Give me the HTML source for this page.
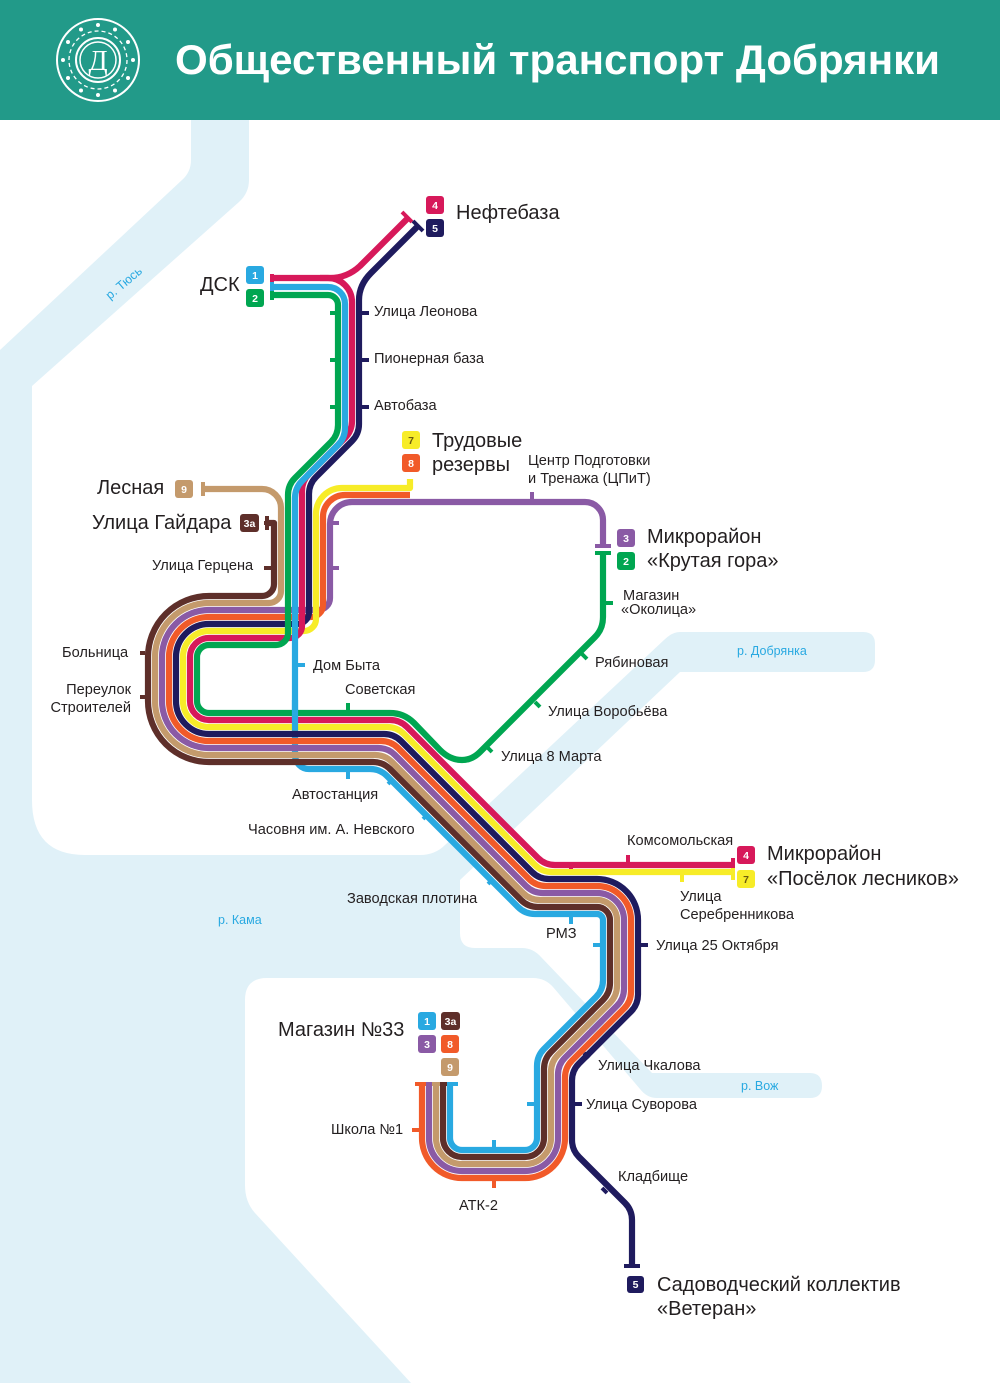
<!DOCTYPE html>
<html><head><meta charset="utf-8"><style>
html,body{margin:0;padding:0;background:#fff}
svg{display:block}
text{font-family:"Liberation Sans",sans-serif}
.s{font-size:14.6px;fill:#231f20}
.b{font-size:20px;fill:#231f20}
.r{font-size:12.5px;fill:#29a9e1}
.bt{font-size:10.5px;fill:#fff;text-anchor:middle;font-weight:bold}
path.l{fill:none;stroke-width:6.2;stroke-linejoin:round}
</style></head><body>
<svg width="1000" height="1383" viewBox="0 0 1000 1383" xmlns="http://www.w3.org/2000/svg">
<rect x="0" y="120" width="1000" height="1263" fill="#e0f1f8"/>
<path fill="#fff" d="M0,120 H191 V160 Q191,172 182,180 L0,350 Z"/>
<path fill="#fff" d="M249,120 H1000 V1383 H411 L255,1213 Q245,1202 245,1185 V1000 Q245,978 267,978 H533 Q545,978 553,987 L640,1089 Q647,1098 657,1098 H810 Q822,1098 822,1086 Q822,1073 810,1073 H652 L541,957 Q533,948 522,948 H475 Q460,948 460,933 V880 L680,672 H863 Q875,672 875,660 V644 Q875,632 863,632 H680 Q672,632 664,640 L445,845 Q435,855 420,855 H85 Q32,855 32,800 V386 L239,202 Q249,193 249,180 Z"/>
<rect x="0" y="0" width="1000" height="120" fill="#229a89"/>
<g fill="none" stroke="#fff">
<circle cx="98" cy="60" r="41" stroke-width="2"/>
<circle cx="98" cy="60" r="22" stroke-width="2"/>
<circle cx="98" cy="60" r="18" stroke-width="1.5"/>
<circle cx="98" cy="60" r="29" stroke-width="1.3" stroke-dasharray="4 3"/>
</g>
<g fill="#fff">
<circle cx="98" cy="25" r="2"/><circle cx="115" cy="29.5" r="2"/><circle cx="128" cy="42" r="2"/><circle cx="133" cy="60" r="2"/><circle cx="128" cy="78" r="2"/><circle cx="115" cy="90.5" r="2"/><circle cx="98" cy="95" r="2"/><circle cx="81" cy="90.5" r="2"/><circle cx="68" cy="78" r="2"/><circle cx="63" cy="60" r="2"/><circle cx="68" cy="42" r="2"/><circle cx="81" cy="29.5" r="2"/>
<text x="98" y="70" text-anchor="middle" style="font-family:'Liberation Serif',serif;font-size:28px;fill:#fff">Д</text>
<text x="175" y="74" textLength="765" lengthAdjust="spacingAndGlyphs" style="font-size:42px;font-weight:bold;fill:#fff">Общественный транспорт Добрянки</text>
</g>
<text class="r" transform="translate(110,300) rotate(-40)">р. Тюсь</text>
<text class="r" x="737" y="655">р. Добрянка</text>
<text class="r" x="218" y="924">р. Кама</text>
<text class="r" x="741" y="1090">р. Вож</text>

<path class="l" stroke="#29a9e1" d="M295,700 V755 A14,14 0 0 0 309,769 H370 Q380,769 387,776 L518,907 Q525,914 535,914 H597 A6,6 0 0 1 603,920 V980 Q603,990 596,997 L544,1049 Q537,1056 537,1066 V1138 A12,12 0 0 1 525,1150 H462 A12,12 0 0 1 450,1138 V1084"/>
<path class="l" stroke="#8a5aa5" d="M603,546 V520 A18,18 0 0 0 585,502 H352 A22,22 0 0 0 330,524 V598 A12,12 0 0 1 318,610 H209 A47,47 0 0 0 162,657 V701 A47,47 0 0 0 209,748 H378 Q388,748 395,755 L526,886 Q533,893 543,893 H597 A27,27 0 0 1 624,920 V988.7 Q624,998.7 617,1005.7 L565,1057.7 Q558,1064.7 558,1074.7 V1138 A33,33 0 0 1 525,1171 H462 A33,33 0 0 1 429,1138 V1084"/>
<path class="l" stroke="#f15a29" d="M410,495 H345 A22,22 0 0 0 323,517 V605 A12,12 0 0 1 311,617 H209 A40,40 0 0 0 169,657 V701 A40,40 0 0 0 209,741 H381 Q391,741 398,748 L529,879 Q536,886 546,886 H597 A34,34 0 0 1 631,920 V991.6 Q631,1001.6 624,1008.6 L572,1060.6 Q565,1067.6 565,1077.6 V1138 A40,40 0 0 1 525,1178 H462 A40,40 0 0 1 422,1138 V1084"/>
<path class="l" stroke="#f7ec28" d="M410,479 V488 H342 A26,26 0 0 0 316,514 V619 A12,12 0 0 1 304,631 H209 A26,26 0 0 0 183,657 V701 A26,26 0 0 0 209,727 H387 Q397,727 404,734 L535,865 Q542,872 552,872 H733"/>
<path class="l" stroke="#1f1b5e" d="M418,226 L371,273 Q359,285 359,300 V424 Q359,434 352,441 L316,477 Q309,484 309,494 V612 A12,12 0 0 1 297,624 H209 A33,33 0 0 0 176,657 V701 A33,33 0 0 0 209,734 H384 Q394,734 401,741 L532,872 Q539,879 549,879 H597 A41,41 0 0 1 638,920 V994.5 Q638,1004.5 631,1011.5 L579,1063.5 Q572,1070.5 572,1080.5 V1140 Q572,1150 579,1157 L625,1203 Q632,1210 632,1220 V1266"/>
<path class="l" stroke="#d7195a" d="M320,278 H328 A24,24 0 0 1 352,302 V421 Q352,431 345,438 L309,474 Q302,481 302,491 V626 A12,12 0 0 1 290,638 H209 A19,19 0 0 0 190,657 V701 A19,19 0 0 0 209,720 H390 Q400,720 407,727 L538,858 Q545,865 555,865 H733"/>
<path class="l" stroke="#d7195a" d="M273,278 H330 Q347,278 360,266 L408,218"/>
<path class="l" stroke="#c49a6c" d="M203,489 H262 A19,19 0 0 1 281,508 V591 A12,12 0 0 1 269,603 H209 A54,54 0 0 0 155,657 V701 A54,54 0 0 0 209,755 H375 Q385,755 392,762 L523,893 Q530,900 540,900 H597 A20,20 0 0 1 617,920 V985.8 Q617,995.8 610,1002.8 L558,1054.8 Q551,1061.8 551,1071.8 V1138 A26,26 0 0 1 525,1164 H462 A26,26 0 0 1 436,1138 V1084"/>
<path class="l" stroke="#5e2f2a" d="M267,523 H274 V584 A12,12 0 0 1 262,596 H209 A61,61 0 0 0 148,657 V701 A61,61 0 0 0 209,762 H373 Q383,762 390,769 L521,900 Q528,907 538,907 H597 A13,13 0 0 1 610,920 V982.9 Q610,992.9 603,999.9 L551,1051.9 Q544,1058.9 544,1068.9 V1138 A19,19 0 0 1 525,1157 H462 A19,19 0 0 1 443,1138 V1084"/>
<path class="l" stroke="#00a651" d="M273,295 H328 A10,10 0 0 1 338,305 V425 Q338,435 331,442 L295,478 Q288,485 288,495 V633 A12,12 0 0 1 276,645 H209 A12,12 0 0 0 197,657 V701 A12,12 0 0 0 209,713 H390 Q404,713 414,723 L440,750 Q450,760 462,760 Q472,760 480,752 L595,637 Q603,629 603,617 V553"/>
<path class="l" stroke="#29a9e1" d="M273,287 H328 A17,17 0 0 1 345,304 V428 Q345,438 338,445 L302,481 Q295,488 295,498 V730"/>

<g stroke-width="4">
<line x1="272" y1="274" x2="272" y2="282" stroke="#d7195a"/>
<line x1="272" y1="282" x2="272" y2="291" stroke="#29a9e1"/>
<line x1="272" y1="291" x2="272" y2="300" stroke="#00a651"/>
<line x1="402" y1="212" x2="412" y2="222" stroke="#d7195a"/>
<line x1="413" y1="221" x2="423" y2="231" stroke="#1f1b5e"/>
<line x1="203" y1="482" x2="203" y2="496" stroke="#c49a6c"/>
<line x1="267" y1="516" x2="267" y2="530" stroke="#5e2f2a"/>
<line x1="595" y1="546" x2="611" y2="546" stroke="#8a5aa5"/>
<line x1="595" y1="553" x2="611" y2="553" stroke="#00a651"/>
<line x1="733" y1="858" x2="733" y2="868" stroke="#d7195a"/>
<line x1="733" y1="868" x2="733" y2="880" stroke="#f7ec28"/>
<line x1="624" y1="1266" x2="640" y2="1266" stroke="#1f1b5e"/>
<line x1="415" y1="1084" x2="426" y2="1084" stroke="#f15a29"/>
<line x1="426" y1="1084" x2="432" y2="1084" stroke="#8a5aa5"/>
<line x1="432" y1="1084" x2="440" y2="1084" stroke="#c49a6c"/>
<line x1="440" y1="1084" x2="447" y2="1084" stroke="#5e2f2a"/>
<line x1="447" y1="1084" x2="458" y2="1084" stroke="#29a9e1"/>
</g>
<g stroke-width="4">
<line x1="362" y1="313" x2="369" y2="313" stroke="#1f1b5e"/><line x1="330" y1="313" x2="335" y2="313" stroke="#00a651"/>
<line x1="362" y1="360" x2="369" y2="360" stroke="#1f1b5e"/><line x1="330" y1="360" x2="335" y2="360" stroke="#00a651"/>
<line x1="362" y1="407" x2="369" y2="407" stroke="#1f1b5e"/><line x1="330" y1="407" x2="335" y2="407" stroke="#00a651"/>
<line x1="532" y1="492" x2="532" y2="499" stroke="#8a5aa5"/>
<line x1="264" y1="523" x2="271" y2="523" stroke="#5e2f2a"/><line x1="333" y1="523" x2="339" y2="523" stroke="#8a5aa5"/>
<line x1="264" y1="568" x2="271" y2="568" stroke="#5e2f2a"/><line x1="333" y1="568" x2="339" y2="568" stroke="#8a5aa5"/>
<line x1="606" y1="603" x2="613" y2="603" stroke="#00a651"/>
<line x1="582" y1="654" x2="587" y2="659" stroke="#00a651"/>
<line x1="535" y1="702" x2="540" y2="707" stroke="#00a651"/>
<line x1="487" y1="747" x2="492" y2="752" stroke="#00a651"/>
<line x1="298" y1="665" x2="305" y2="665" stroke="#29a9e1"/>
<line x1="348" y1="703" x2="348" y2="710" stroke="#00a651"/><line x1="348" y1="772" x2="348" y2="779" stroke="#29a9e1"/>
<line x1="140" y1="653" x2="145" y2="653" stroke="#5e2f2a"/><line x1="140" y1="697" x2="145" y2="697" stroke="#5e2f2a"/>
<line x1="393" y1="779" x2="388" y2="784" stroke="#29a9e1"/>
<line x1="428" y1="814" x2="423" y2="819" stroke="#29a9e1"/>
<line x1="493" y1="879" x2="488" y2="884" stroke="#29a9e1"/>
<line x1="628" y1="855" x2="628" y2="862" stroke="#d7195a"/>
<line x1="682" y1="875" x2="682" y2="882" stroke="#f7ec28"/>
<line x1="571" y1="862" x2="571" y2="869" stroke="#d7195a"/><line x1="571" y1="917" x2="571" y2="924" stroke="#29a9e1"/>
<line x1="641" y1="945" x2="648" y2="945" stroke="#1f1b5e"/><line x1="593" y1="945" x2="600" y2="945" stroke="#29a9e1"/>
<line x1="584" y1="1053" x2="589" y2="1058" stroke="#1f1b5e"/>
<line x1="575" y1="1104" x2="582" y2="1104" stroke="#1f1b5e"/><line x1="527" y1="1104" x2="534" y2="1104" stroke="#29a9e1"/>
<line x1="412" y1="1130" x2="419" y2="1130" stroke="#f15a29"/>
<line x1="494" y1="1181" x2="494" y2="1188" stroke="#f15a29"/><line x1="494" y1="1140" x2="494" y2="1147" stroke="#29a9e1"/>
<line x1="602" y1="1188" x2="607" y2="1193" stroke="#1f1b5e"/>
</g>

<g>
<rect x="426" y="196" width="18" height="18" rx="3" fill="#d7195a"/><text class="bt" x="435" y="209">4</text>
<rect x="426" y="219" width="18" height="18" rx="3" fill="#1f1b5e"/><text class="bt" x="435" y="232">5</text>
<rect x="246" y="266" width="18" height="18" rx="3" fill="#29a9e1"/><text class="bt" x="255" y="279">1</text>
<rect x="246" y="289" width="18" height="18" rx="3" fill="#00a651"/><text class="bt" x="255" y="302">2</text>
<rect x="402" y="431" width="18" height="18" rx="3" fill="#f7ec28"/><text class="bt" x="411" y="444" style="fill:#6b5a10">7</text>
<rect x="402" y="454" width="18" height="18" rx="3" fill="#f15a29"/><text class="bt" x="411" y="467">8</text>
<rect x="175" y="480" width="18" height="18" rx="3" fill="#c49a6c"/><text class="bt" x="184" y="493">9</text>
<rect x="240" y="514" width="19" height="18" rx="3" fill="#5e2f2a"/><text class="bt" x="249.5" y="527">3а</text>
<rect x="617" y="529" width="18" height="18" rx="3" fill="#8a5aa5"/><text class="bt" x="626" y="542">3</text>
<rect x="617" y="552" width="18" height="18" rx="3" fill="#00a651"/><text class="bt" x="626" y="565">2</text>
<rect x="737" y="846" width="18" height="18" rx="3" fill="#d7195a"/><text class="bt" x="746" y="859">4</text>
<rect x="737" y="870" width="18" height="18" rx="3" fill="#f7ec28"/><text class="bt" x="746" y="883" style="fill:#6b5a10">7</text>
<rect x="418" y="1012" width="18" height="18" rx="3" fill="#29a9e1"/><text class="bt" x="427" y="1025">1</text>
<rect x="441" y="1012" width="19" height="18" rx="3" fill="#5e2f2a"/><text class="bt" x="450.5" y="1025">3а</text>
<rect x="418" y="1035" width="18" height="18" rx="3" fill="#8a5aa5"/><text class="bt" x="427" y="1048">3</text>
<rect x="441" y="1035" width="18" height="18" rx="3" fill="#f15a29"/><text class="bt" x="450" y="1048">8</text>
<rect x="441" y="1058" width="18" height="18" rx="3" fill="#c49a6c"/><text class="bt" x="450" y="1071">9</text>
<rect x="627" y="1276" width="17" height="17" rx="3" fill="#1f1b5e"/><text class="bt" x="635.5" y="1288">5</text>
</g>

<text class="b" x="456" y="219">Нефтебаза</text>
<text class="b" x="200" y="291">ДСК</text>
<text class="s" x="374" y="316">Улица Леонова</text>
<text class="s" x="374" y="363">Пионерная база</text>
<text class="s" x="374" y="410">Автобаза</text>
<text class="b" x="432" y="447">Трудовые</text>
<text class="b" x="432" y="471">резервы</text>
<text class="s" x="528" y="465">Центр Подготовки</text>
<text class="s" x="528" y="483">и Тренажа (ЦПиТ)</text>
<text class="b" x="97" y="494">Лесная</text>
<text class="b" x="92" y="529">Улица Гайдара</text>
<text class="s" x="152" y="570">Улица Герцена</text>
<text class="b" x="647" y="543">Микрорайон</text>
<text class="b" x="647" y="567">«Крутая гора»</text>
<text class="s" x="623" y="600">Магазин</text>
<text class="s" x="621" y="614">«Околица»</text>
<text class="s" x="595" y="667">Рябиновая</text>
<text class="s" x="548" y="716">Улица Воробьёва</text>
<text class="s" x="501" y="761">Улица 8 Марта</text>
<text class="s" x="313" y="670">Дом Быта</text>
<text class="s" x="345" y="694">Советская</text>
<text class="s" x="62" y="657">Больница</text>
<text class="s" x="131" y="694" text-anchor="end">Переулок</text>
<text class="s" x="131" y="712" text-anchor="end">Строителей</text>
<text class="s" x="292" y="799">Автостанция</text>
<text class="s" x="248" y="834">Часовня им. А. Невского</text>
<text class="s" x="347" y="903">Заводская плотина</text>
<text class="s" x="627" y="845">Комсомольская</text>
<text class="s" x="680" y="901">Улица</text>
<text class="s" x="680" y="919">Серебренникова</text>
<text class="b" x="767" y="860">Микрорайон</text>
<text class="b" x="767" y="885">«Посёлок лесников»</text>
<text class="s" x="546" y="938">РМЗ</text>
<text class="s" x="656" y="950">Улица 25 Октября</text>
<text class="b" x="278" y="1036">Магазин №33</text>
<text class="s" x="598" y="1070">Улица Чкалова</text>
<text class="s" x="586" y="1109">Улица Суворова</text>
<text class="s" x="331" y="1134">Школа №1</text>
<text class="s" x="459" y="1210">АТК-2</text>
<text class="s" x="618" y="1181">Кладбище</text>
<text class="b" x="657" y="1291">Садоводческий коллектив</text>
<text class="b" x="657" y="1315">«Ветеран»</text>
</svg>
</body></html>
